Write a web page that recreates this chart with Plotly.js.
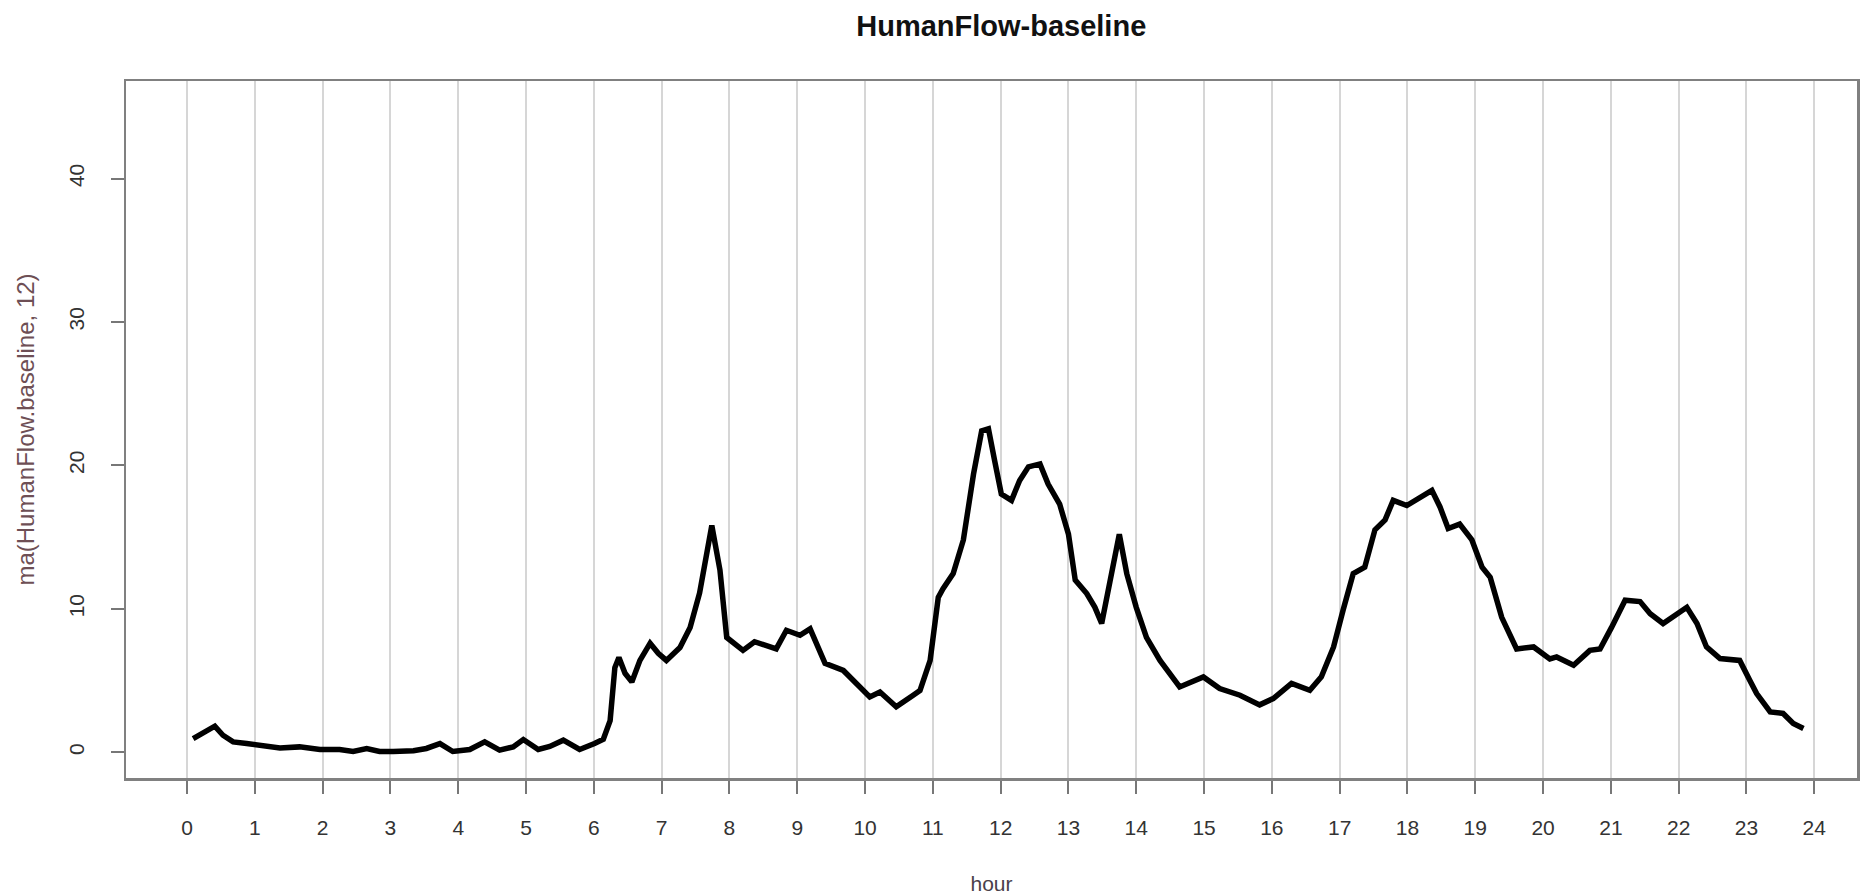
<!DOCTYPE html>
<html>
<head>
<meta charset="utf-8">
<script src="https://cdn.plot.ly/plotly-3.0.1.min.js"></script>
<style>html,body{margin:0;padding:0;background:#fff;}#chart{width:1875px;height:895px;}</style>
</head>
<body>
<div id="chart"></div>
<script>
const chartTitle = "HumanFlow-baseline";
const xLabel = "hour";
const yLabel = "ma(HumanFlow.baseline, 12)";
const xTicks = [0,1,2,3,4,5,6,7,8,9,10,11,12,13,14,15,16,17,18,19,20,21,22,23,24];
const yTicks = [0,10,20,30,40];

const hour = [0.09,0.26,0.41,0.53,0.68,0.88,1.07,1.37,1.66,1.96,2.25,2.45,2.65,2.84,3.04,3.34,3.53,3.73,3.92,4.17,4.39,4.61,4.81,4.96,5.18,5.35,5.55,5.79,6.01,6.14,6.24,6.31,6.37,6.46,6.56,6.68,6.83,6.95,7.07,7.27,7.42,7.56,7.74,7.86,7.96,8.2,8.37,8.69,8.84,9.04,9.19,9.41,9.68,9.87,10.07,10.22,10.46,10.71,10.81,10.96,11.08,11.15,11.3,11.45,11.6,11.72,11.82,11.91,12.01,12.16,12.28,12.41,12.58,12.7,12.87,13.0,13.1,13.27,13.39,13.49,13.64,13.75,13.86,14.0,14.15,14.35,14.64,14.99,15.23,15.53,15.82,16.02,16.29,16.56,16.73,16.91,17.05,17.2,17.37,17.52,17.67,17.79,17.99,18.18,18.36,18.48,18.6,18.77,18.95,19.1,19.22,19.39,19.61,19.86,20.1,20.2,20.45,20.69,20.84,21.01,21.21,21.43,21.58,21.77,21.95,22.12,22.27,22.41,22.61,22.9,23.05,23.15,23.35,23.54,23.69,23.84];
const flow = [0.95,1.41,1.81,1.18,0.72,0.6,0.49,0.3,0.37,0.19,0.19,0.05,0.26,0.05,0.05,0.1,0.26,0.6,0.05,0.19,0.72,0.14,0.37,0.88,0.19,0.4,0.84,0.19,0.6,0.9,2.2,5.9,6.6,5.5,4.9,6.4,7.6,6.9,6.4,7.3,8.7,11.1,15.8,12.7,8.0,7.1,7.7,7.2,8.5,8.15,8.6,6.2,5.7,4.8,3.85,4.2,3.16,3.97,4.3,6.4,10.8,11.4,12.45,14.8,19.4,22.4,22.55,20.35,18.0,17.56,18.95,19.9,20.1,18.7,17.3,15.2,12.0,11.06,10.1,8.97,12.45,15.2,12.45,10.1,8.0,6.4,4.55,5.25,4.44,3.97,3.3,3.74,4.79,4.32,5.25,7.34,9.9,12.45,12.9,15.5,16.2,17.56,17.2,17.8,18.26,17.1,15.6,15.9,14.8,12.9,12.2,9.4,7.2,7.34,6.5,6.64,6.06,7.1,7.2,8.7,10.6,10.5,9.66,8.97,9.55,10.1,8.97,7.34,6.53,6.4,5.0,4.09,2.81,2.7,2.0,1.65];

const FONT = "Liberation Sans, Arial, sans-serif";

const trace = {
  x: hour, y: flow, type: "scatter", mode: "lines",
  line: {color: "#000000", width: 5.5, shape: "linear"},
  hoverinfo: "x+y", showlegend: false
};

const layout = {
  width: 1875, height: 895,
  paper_bgcolor: "#ffffff", plot_bgcolor: "#ffffff",
  margin: {l: 126, r: 18, t: 81, b: 117},
  font: {family: FONT, size: 21, color: "#333333"},
  title: {
    text: chartTitle, x: 0.534, xref: "container", xanchor: "center",
    y: 0.971, yref: "container", yanchor: "middle",
    font: {family: FONT, size: 29, color: "#111111", weight: "bold"}
  },
  xaxis: {
    range: [-0.9, 24.63], tickmode: "array", tickvals: xTicks, ticktext: xTicks.map(String),
    showgrid: true, gridcolor: "#d6d6d6", gridwidth: 2,
    zeroline: false, showline: true, linecolor: "#808080", linewidth: 2.5, mirror: true,
    ticks: "outside", ticklen: 13, tickwidth: 2, tickcolor: "#777777",
    ticklabelstandoff: 16,
    tickfont: {family: FONT, size: 21, color: "#333333"},
    title: {text: xLabel, standoff: 42, font: {family: FONT, size: 21, color: "#4a3f4a"}},
    automargin: false
  },
  yaxis: {
    range: [-1.8, 46.8], tickmode: "array", tickvals: yTicks, ticktext: yTicks.map(String),
    tickangle: -90,
    showgrid: false, zeroline: false, showline: true, linecolor: "#808080", linewidth: 2.5, mirror: true,
    ticks: "outside", ticklen: 13, tickwidth: 2, tickcolor: "#777777",
    ticklabelstandoff: 18,
    tickfont: {family: FONT, size: 21, color: "#333333"},
    title: {text: yLabel, standoff: 24, font: {family: FONT, size: 24, color: "#6e4f55"}},
    automargin: false
  }
};

Plotly.newPlot("chart", [trace], layout, {displayModeBar: false, staticPlot: true});
</script>
</body>
</html>
